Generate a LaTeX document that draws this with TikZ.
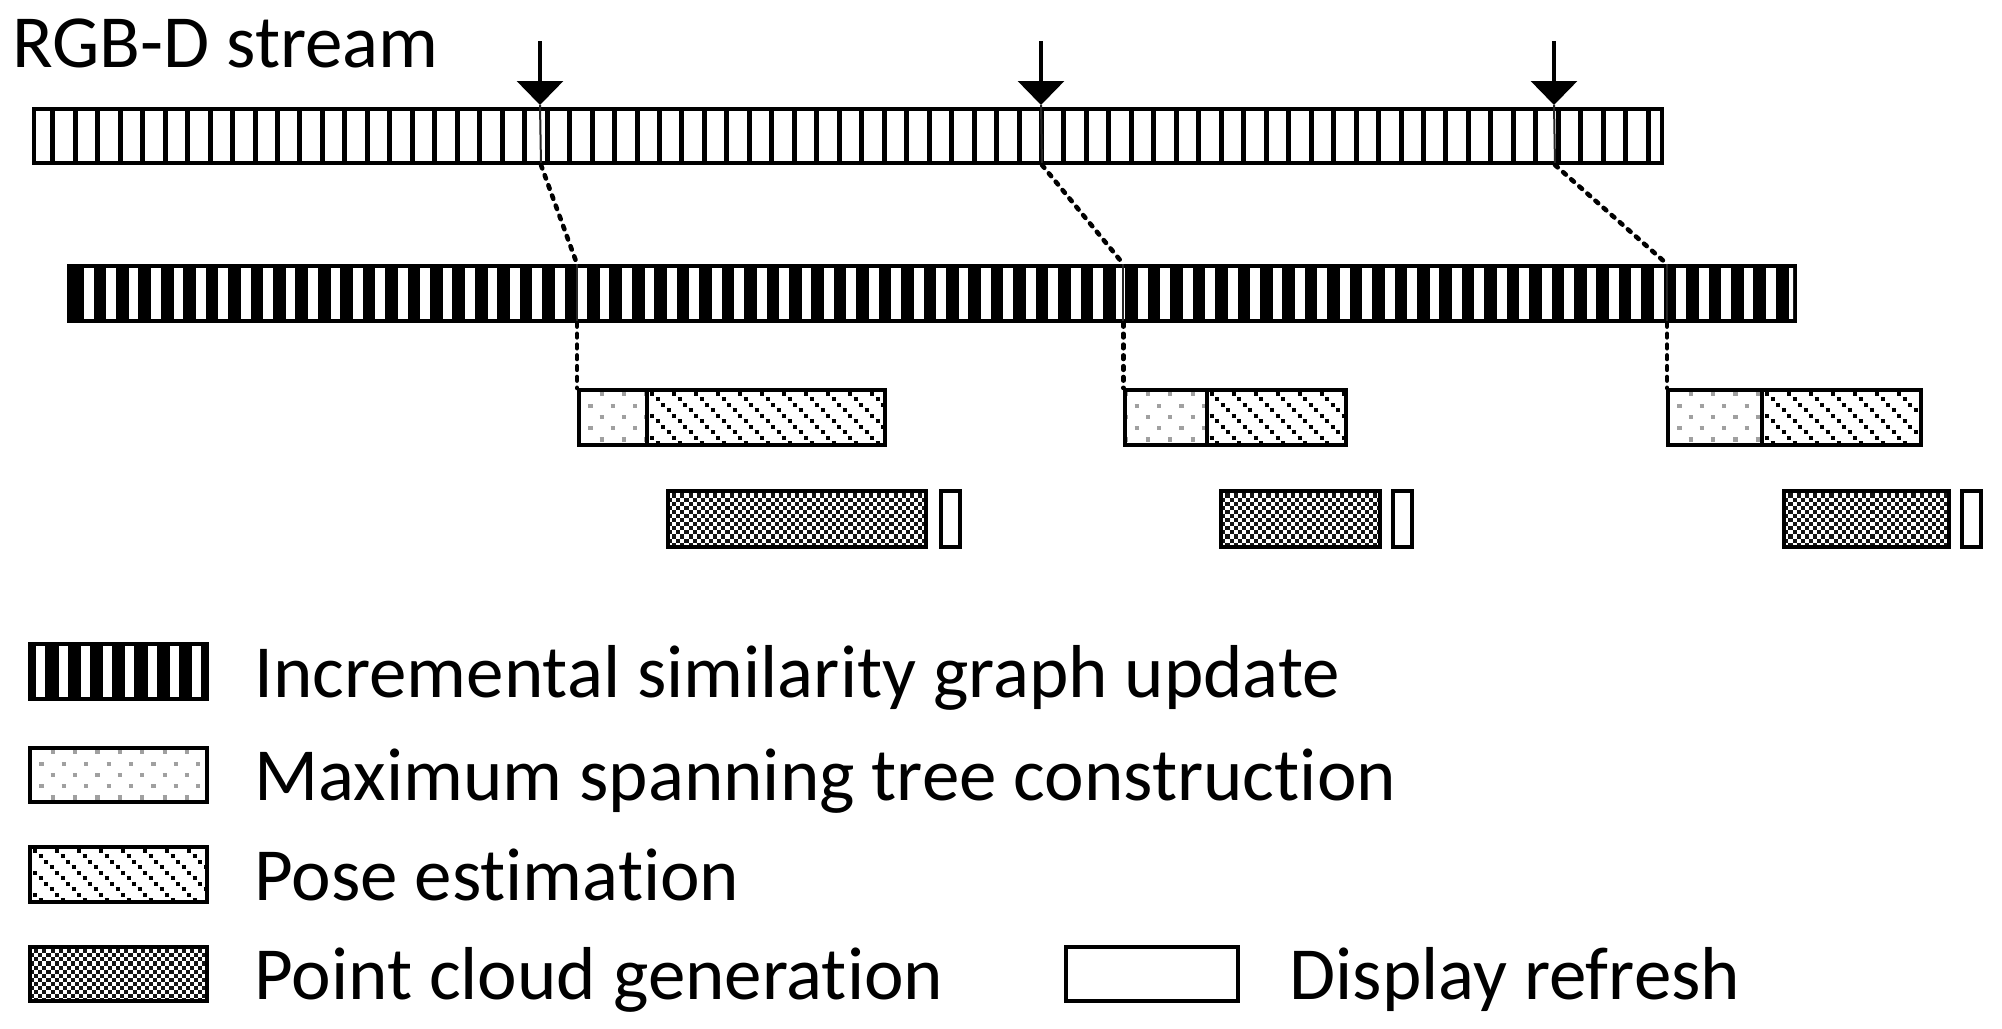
\documentclass[tikz,border=0pt]{standalone}
\usepackage{fontspec}
\setmainfont{Carlito}[Ligatures={NoCommon}]
\usetikzlibrary{arrows.meta}

\definecolor{dotgray}{RGB}{160,160,160}
\definecolor{ckdark}{RGB}{20,20,20}

% pattern fills, coordinates are centre lines of the box border (px units)
\newcommand\ckfill[4]{%
 \begin{scope}
 \clip (#1,#2) rectangle (#3,#4);
 \foreach \rr in {0,...,15}{
   \pgfmathsetmacro\ph{mod(\rr,2)*2.05}
   \draw[line width=2.05pt, ckdark, dash pattern=on 2.05pt off 2.05pt, dash phase={\ph pt}]
     (#1,{#2-2+2.05+4.1*\rr}) -- (#3,{#2-2+2.05+4.1*\rr});
 }
 \end{scope}}
\newcommand\dtfill[4]{%
 \begin{scope}
 \clip (#1,#2) rectangle (#3,#4);
 \foreach \rr in {0,...,5}{
   \pgfmathsetmacro\xs{#1-1.9+11.2*mod(\rr,2)}
   \draw[line width=2.1pt, dotgray, dash pattern=on 2.1pt off 9.1pt]
     (\xs,{#2+4.3+11.3*\rr}) -- (#3,{#2+4.3+11.3*\rr});
 }
 \end{scope}}
\newcommand\hafill[4]{%
 \begin{scope}
 \clip (#1,#2) rectangle (#3,#4);
 \foreach \rr in {0,...,10}{
   \pgfmathsetmacro\xs{#1+3-22+5.5*mod(\rr,4)}
   \draw[line width=2pt, black, dash pattern=on 2pt off 9pt]
     (\xs,{#2+3.5+5.5*\rr}) -- (#3,{#2+3.5+5.5*\rr});
 }
 \end{scope}}
\newcommand\pbox[5]{%
  \fill[white] (#2,#3) rectangle (#4,#5);
  \csname #1fill\endcsname{#2}{#3}{#4}{#5}%
  \draw[bx] (#2,#3) rectangle (#4,#5);}

\begin{document}
\begin{tikzpicture}[x=0.5pt,y=-0.5pt,
  bx/.style={line width=2pt},
  plainbox/.style={bx, fill=white},
  dotline/.style={line width=2.3pt, line cap=round, dash pattern=on 1.8pt off 3.6pt},
  thinline/.style={line width=1pt, black!85},
  arr/.style={line width=1.75pt, -{Triangle[width=23pt,length=12pt]}},
  lbl/.style={font=\fontsize{37.5pt}{45pt}\selectfont, anchor=base west, inner sep=0pt}]
\useasboundingbox (0,0) rectangle (2002,1028);
\fill[white] (0,0) rectangle (2002,1028);

% title
\node[lbl] (title) at (12,67) {RGB-D stream};

% top bar (RGB-D stream)
\draw[plainbox] (34,109) rectangle (1662,163);
\foreach \k in {0,...,71} \fill ({50.3+22.47*\k},107) rectangle ++(5,58);

% arrows
\coordinate (at1) at (540,41);  \coordinate (ah1) at (540,105); \coordinate (ab1) at (541,165);
\coordinate (at2) at (1041,41); \coordinate (ah2) at (1041,105); \coordinate (ab2) at (1042,165);
\coordinate (at3) at (1554,41); \coordinate (ah3) at (1554,105); \coordinate (ab3) at (1555,165);
\foreach \i in {1,2,3} {
  \draw[arr] (at\i) -- (ah\i);
  \draw[thinline] (ah\i) -- (ab\i);
}

% second bar (incremental similarity graph update)
\fill (66.7,264) rectangle (1797,323);
\begin{scope}
  \clip (70.7,268) rectangle (1793,319);
  \foreach \k in {0,...,76} \fill[white] ({83.8+22.43*\k},268) rectangle ++(9.8,51);
\end{scope}

% connector points
\coordinate (sb1) at (577,264);    \coordinate (sd1) at (577,323);    \coordinate (g1) at (577,388);
\coordinate (sb2) at (1123.3,264); \coordinate (sd2) at (1123.3,323); \coordinate (g2) at (1123.3,388);
\coordinate (sb3) at (1667,264);   \coordinate (sd3) at (1667,323);   \coordinate (g3) at (1667,388);
\foreach \i in {1,2,3} {
  \draw[dotline] (ab\i) -- (sb\i);
  \draw[thinline] (sb\i) -- (sd\i);
  \draw[dotline] (sd\i) -- (g\i);
}

% third row: spanning tree + pose estimation
\pbox{dt}{579}{390}{647}{445}
\pbox{ha}{647}{390}{885}{445}
\pbox{dt}{1125.3}{390}{1206.7}{445}
\pbox{ha}{1206.7}{390}{1345.7}{445}
\pbox{dt}{1668}{390}{1762}{445}
\pbox{ha}{1762}{390}{1920.7}{445}

% fourth row: point cloud generation + display refresh
\pbox{ck}{668}{491.3}{925.7}{547}
\draw[plainbox] (941,491.3) rectangle (959.7,547);
\pbox{ck}{1221.3}{491.3}{1379.7}{547}
\draw[plainbox] (1392.7,491.3) rectangle (1412.3,547);
\pbox{ck}{1784.3}{491.3}{1948.7}{547}
\draw[plainbox] (1962,491.3) rectangle (1980.7,547);

% legend
\fill (28,642) rectangle (209,701);
\begin{scope}
  \clip (32,646) rectangle (205,697);
  \foreach \k in {0,...,7} \fill[white] ({36.2+22.3*\k},646) rectangle ++(9,51);
\end{scope}
\pbox{dt}{30}{748}{207}{802}
\pbox{ha}{30}{847}{207}{902}
\pbox{ck}{30}{947}{207}{1001}
\draw[plainbox] (1066,947) rectangle (1238,1001);

\node[lbl] (l1) at (254,697) {Incremental similarity graph update};
\node[lbl] (l2) at (254,800) {Maximum spanning tree construction};
\node[lbl] (l3) at (254,900) {Pose estimation};
\node[lbl] (l4) at (254,999) {Point cloud generation};
\node[lbl] (l5) at (1289,999) {Display refresh};
\end{tikzpicture}
\end{document}
